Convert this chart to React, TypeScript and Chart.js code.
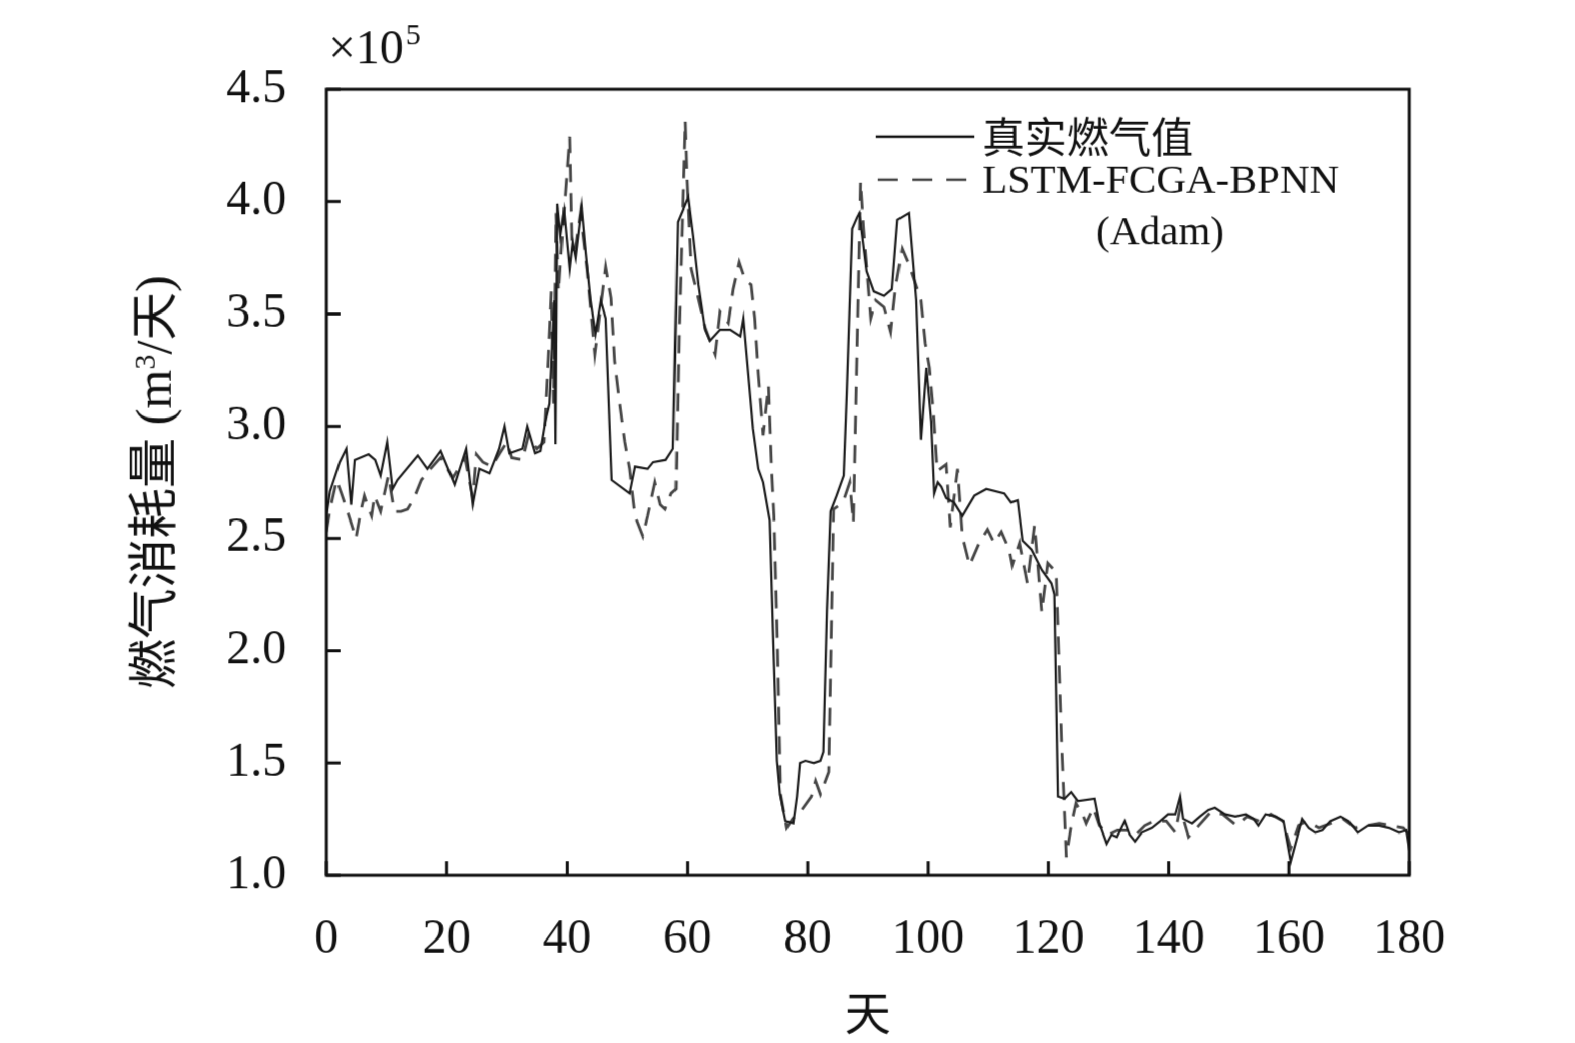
import React, { useEffect, useRef } from 'react';
import { Chart, registerables } from 'chart.js';

Chart.register(...registerables);

// 真实燃气值 (solid) — vertices, value in 1e5 m3/day
const realDays = [
  0, 0.6, 2.2, 3.3, 4.1, 4.7, 7, 8.1, 9, 10.1, 11, 11.8, 15.2, 16.8, 19, 21.3, 23.2, 24.3, 25.4, 27.1,
  28.7, 29.6, 30.4, 32.6, 33.4, 34.7, 35.6, 36.4, 37.1, 37.9, 38.1, 38.4, 38.9, 39.5, 40.4, 40.9, 41.4, 42.4, 43.1, 43.9,
  44.7, 45.6, 46.4, 47.4, 50.4, 51.3, 53.4, 54.3, 56.4, 57.6, 58.4, 60.1, 60.9, 61.8, 62.9, 63.7, 65.4, 67.1, 68.8, 69.3,
  70.9, 71.8, 72.6, 73.7, 74.3, 74.9, 75.4, 76.3, 77.6, 78.2, 78.7, 79.6, 81, 82.1, 82.6, 83.2, 83.8, 84.8, 86, 86.5,
  87.4, 88.2, 88.6, 89.8, 91, 92.7, 94, 94.9, 96.8, 98, 98.8, 99.7, 100.5, 101, 101.6, 102.2, 103, 104.3, 105.7, 107.7,
  109.7, 112.7, 113.8, 114.9, 115.7, 117.2, 118.9, 120.5, 121, 121.6, 122.7, 123.8, 124.9, 127.7, 128.5, 129.7, 130.5, 131.4, 132.7, 133.5,
  134.4, 135.5, 137.2, 138.6, 139.9, 141.1, 141.9, 142.4, 143.9, 145.2, 146.6, 147.7, 149.4, 151.1, 152.8, 154.1, 154.9, 156.1, 157.8, 159.1,
  160.3, 161.6, 162.2, 163.3, 164.4, 165.6, 166.9, 168.6, 169.9, 171.4, 173.1, 175, 176.6, 178.3, 179.5, 180,
];
const realValues = [
  2.6, 2.71, 2.84, 2.9, 2.65, 2.85, 2.875, 2.85, 2.78, 2.93, 2.72, 2.76, 2.87, 2.81, 2.89, 2.74, 2.9, 2.65, 2.81, 2.79,
  2.9, 3.0, 2.88, 2.9, 3.0, 2.88, 2.89, 3.02, 3.1, 3.56, 2.92, 3.99, 3.85, 3.96, 3.7, 3.82, 3.75, 3.98, 3.77, 3.56,
  3.41, 3.56, 3.48, 2.76, 2.7, 2.82, 2.81, 2.84, 2.85, 2.9, 3.91, 4.02, 3.85, 3.63, 3.43, 3.38, 3.43, 3.43, 3.4, 3.48,
  2.99, 2.81, 2.75, 2.58, 2.03, 1.51, 1.36, 1.24, 1.23, 1.35, 1.5, 1.51, 1.5, 1.51, 1.55, 2.18, 2.62, 2.69, 2.78, 3.14,
  3.88, 3.93, 3.95, 3.69, 3.6, 3.58, 3.61, 3.92, 3.95, 3.56, 2.94, 3.26, 3.02, 2.7, 2.75, 2.73, 2.68, 2.66, 2.6, 2.69,
  2.72, 2.7, 2.66, 2.67, 2.49, 2.45, 2.36, 2.3, 2.25, 1.35, 1.34, 1.37, 1.33, 1.34, 1.23, 1.14, 1.18, 1.17, 1.24, 1.18,
  1.15, 1.19, 1.21, 1.24, 1.27, 1.27, 1.35, 1.25, 1.23, 1.26, 1.29, 1.3, 1.27, 1.26, 1.27, 1.25, 1.22, 1.27, 1.26, 1.24,
  1.06, 1.19, 1.25, 1.21, 1.19, 1.2, 1.24, 1.26, 1.24, 1.19, 1.22, 1.22, 1.21, 1.19, 1.2, 1.11,
];

// LSTM-FCGA-BPNN (Adam) prediction (dashed)
const predDays = [
  0, 0.6, 1.7, 2.5, 3.5, 4.9, 5.7, 6.3, 6.8, 7.5, 8, 9, 10.3, 11.3, 12.4, 13.5, 14.6, 15.8, 17, 19,
  21, 23, 24.3, 24.9, 26, 27.5, 28.8, 30, 30.8, 32.6, 33.6, 35, 36.2, 36.9, 37.4, 37.8, 38.2, 38.6, 39.2, 40.4,
  40.8, 41.4, 42.2, 43.3, 44.6, 45.3, 46.4, 47.3, 47.9, 48.7, 49.6, 50.4, 51.3, 52.6, 53.4, 54.6, 55.5, 56.3, 57.3, 58.1,
  58.6, 59.6, 59.9, 60.6, 61.5, 62.9, 64.6, 65.4, 66.8, 67.6, 68.6, 69.6, 70.6, 71.2, 71.8, 72.6, 73.5, 74, 74.4, 75,
  75.5, 76.5, 77.5, 79, 80.6, 81.3, 82.1, 83.5, 84.3, 85.4, 86, 87, 87.6, 88.8, 89.3, 90.5, 91.3, 92.7, 93.8, 94.6,
  95.7, 96.8, 98.8, 99.5, 100.2, 100.9, 101.5, 103, 103.7, 104.9, 105.7, 106.9, 108.5, 109.9, 111, 112.2, 113.5, 114, 115.2, 116.5,
  117.7, 118.9, 119.9, 121.3, 122.2, 123, 123.8, 124.6, 125.7, 126.3, 127.5, 128.5, 130, 131.5, 133, 134.5, 136, 137.5, 139.6, 141.1,
  141.9, 143.3, 145, 147, 149, 151.3, 153, 155, 157, 159, 160.3, 161.6, 163, 165, 167, 169, 171, 173, 175, 177,
  179, 180,
];
const predValues = [
  2.53, 2.63, 2.76, 2.7, 2.62, 2.5, 2.62, 2.69, 2.65, 2.6, 2.69, 2.62, 2.78, 2.62, 2.62, 2.63, 2.68, 2.76, 2.8, 2.86,
  2.77, 2.86, 2.68, 2.875, 2.84, 2.82, 2.88, 2.93, 2.86, 2.85, 2.96, 2.9, 2.93, 3.3, 3.6, 3.1, 3.95, 3.6, 3.85, 4.29,
  3.78, 3.8, 3.95, 3.7, 3.32, 3.47, 3.71, 3.57, 3.29, 3.11, 2.93, 2.81, 2.6, 2.51, 2.6, 2.75, 2.65, 2.63, 2.7, 2.72,
  3.4, 4.36, 4.1, 3.7, 3.6, 3.44, 3.32, 3.51, 3.46, 3.61, 3.73, 3.65, 3.63, 3.48, 3.23, 2.96, 3.18, 2.81, 2.6, 2.0,
  1.36, 1.21, 1.25, 1.29, 1.35, 1.42, 1.36, 1.46, 2.63, 2.65, 2.67, 2.75, 2.57, 4.09, 3.88, 3.48, 3.56, 3.53, 3.42, 3.62,
  3.79, 3.72, 3.56, 3.37, 3.26, 3.05, 2.8, 2.83, 2.55, 2.81, 2.51, 2.38, 2.48, 2.54, 2.48, 2.53, 2.45, 2.38, 2.48, 2.3,
  2.56, 2.17, 2.39, 2.35, 1.6, 1.08, 1.22, 1.32, 1.27, 1.23, 1.3, 1.22, 1.18, 1.2, 1.2, 1.18, 1.22, 1.24, 1.24, 1.19,
  1.3, 1.17, 1.22, 1.28, 1.27, 1.22, 1.26, 1.24, 1.27, 1.24, 1.12, 1.22, 1.24, 1.21, 1.23, 1.25, 1.21, 1.22, 1.23, 1.22,
  1.21, 1.18,
];

const xTicks = [0, 20, 40, 60, 80, 100, 120, 140, 160, 180];
const yTicks = [1.0, 1.5, 2.0, 2.5, 3.0, 3.5, 4.0, 4.5];

const seriesNames = ['真实燃气值', 'LSTM-FCGA-BPNN', '(Adam)'];
const xTitle = '天';

const SERIF = '"Liberation Serif", "Times New Roman", "Noto Sans CJK SC", serif';
const CJK = '"Noto Sans CJK SC", "Liberation Serif", sans-serif';

const WIDTH = 1575;
const HEIGHT = 1043;

// y title pieces: [text, font, baseline shift]
const yTitleParts: [string, string, number][] = [
  ['燃气消耗量', `50px ${CJK}`, 0],
  [' (m', `50px ${SERIF}`, 0],
  ['3', `30px ${SERIF}`, -16],
  ['/', `50px ${SERIF}`, 0],
  ['天', `48px ${CJK}`, 0],
  [')', `50px ${SERIF}`, 0],
];

// frame, inner ticks, titles and legend
const decorPlugin = {
  id: 'decor',
  afterDatasetsDraw(chart: any) {
    const { ctx, chartArea } = chart;
    const { left, right, top, bottom } = chartArea;
    const xs = chart.scales.x;
    const ys = chart.scales.y;
    ctx.save();
    ctx.strokeStyle = '#111';
    ctx.lineWidth = 3;
    ctx.setLineDash([]);
    ctx.strokeRect(left, top, right - left, bottom - top);

    ctx.beginPath();
    xTicks.forEach((t) => {
      const px = xs.getPixelForValue(t);
      ctx.moveTo(px, bottom);
      ctx.lineTo(px, bottom - 14);
    });
    yTicks.forEach((t) => {
      const py = ys.getPixelForValue(t);
      ctx.moveTo(left, py);
      ctx.lineTo(left + 14, py);
    });
    ctx.stroke();

    ctx.fillStyle = '#111';
    // ×10^5
    ctx.textBaseline = 'alphabetic';
    ctx.textAlign = 'left';
    ctx.font = `48px ${SERIF}`;
    ctx.fillText('×10', left + 2, 63);
    const w = ctx.measureText('×10').width;
    ctx.font = `30px ${SERIF}`;
    ctx.fillText('5', left + 4 + w, 44);

    // x title
    ctx.font = `46px ${CJK}`;
    ctx.textAlign = 'center';
    ctx.textBaseline = 'middle';
    ctx.fillText(xTitle, (left + right) / 2, 1008);

    // y title, drawn piece by piece
    ctx.save();
    ctx.textAlign = 'left';
    ctx.textBaseline = 'alphabetic';
    let total = 0;
    const widths = yTitleParts.map(([t, f]) => {
      ctx.font = f;
      const m = ctx.measureText(t).width;
      total += m;
      return m;
    });
    ctx.translate(170, 480);
    ctx.rotate(-Math.PI / 2);
    let cx = -total / 2;
    yTitleParts.forEach(([t, f, dy], i) => {
      ctx.font = f;
      ctx.fillText(t, cx, dy);
      cx += widths[i];
    });
    ctx.restore();

    // legend
    ctx.lineWidth = 2.5;
    ctx.strokeStyle = '#111';
    ctx.beginPath();
    ctx.moveTo(872, 136);
    ctx.lineTo(970, 136);
    ctx.stroke();
    ctx.strokeStyle = '#444';
    ctx.setLineDash([20, 14]);
    ctx.beginPath();
    ctx.moveTo(874, 179);
    ctx.lineTo(976, 179);
    ctx.stroke();
    ctx.setLineDash([]);

    ctx.textAlign = 'left';
    ctx.font = `42px ${CJK}`;
    ctx.fillText(seriesNames[0], 978, 136);
    ctx.font = `41px ${SERIF}`;
    ctx.fillText(seriesNames[1], 978, 181);
    ctx.textAlign = 'center';
    ctx.fillText(seriesNames[2], 1155, 232);
    ctx.restore();
  },
};

export default function App() {
  const canvasRef = useRef<HTMLCanvasElement>(null);
  const chartRef = useRef<Chart | null>(null);

  useEffect(() => {
    if (!canvasRef.current) return;
    const ctx = canvasRef.current.getContext('2d');
    if (!ctx) return;
    if (chartRef.current) chartRef.current.destroy();

    chartRef.current = new Chart(ctx, {
      type: 'line',
      data: {
        datasets: [
          {
            label: seriesNames[0],
            data: realDays.map((d, i) => ({ x: d, y: realValues[i] })),
            borderColor: '#1a1a1a',
            borderWidth: 2.2,
            pointRadius: 0,
            tension: 0,
          },
          {
            label: seriesNames[1] + seriesNames[2],
            data: predDays.map((d, i) => ({ x: d, y: predValues[i] })),
            borderColor: '#454545',
            borderWidth: 2.8,
            borderDash: [18, 11],
            pointRadius: 0,
            tension: 0,
          },
        ],
      },
      options: {
        animation: false,
        responsive: false,
        maintainAspectRatio: false,
        devicePixelRatio: 1,
        layout: { padding: { top: 89, right: 172, left: 0, bottom: 0 } },
        plugins: {
          legend: { display: false },
          tooltip: { enabled: false },
        },
        scales: {
          x: {
            type: 'linear',
            min: 0,
            max: 180,
            grid: { display: false, drawTicks: false },
            border: { display: false },
            afterFit: (scale: any) => {
              scale.height = 172;
            },
            afterBuildTicks: (scale: any) => {
              scale.ticks = xTicks.map((v) => ({ value: v }));
            },
            ticks: {
              color: '#111',
              padding: 36,
              font: { family: SERIF, size: 48 },
              maxRotation: 0,
            },
          },
          y: {
            min: 1.0,
            max: 4.5,
            grid: { display: false, drawTicks: false },
            border: { display: false },
            afterFit: (scale: any) => {
              scale.width = 325;
            },
            afterBuildTicks: (scale: any) => {
              scale.ticks = yTicks.map((v) => ({ value: v }));
            },
            ticks: {
              color: '#111',
              padding: 40,
              font: { family: SERIF, size: 48 },
              callback: (v: any) => Number(v).toFixed(1),
            },
          },
        },
      },
      plugins: [decorPlugin],
    });

    return () => {
      if (chartRef.current) {
        chartRef.current.destroy();
        chartRef.current = null;
      }
    };
  }, []);

  // the photo comes out a touch smaller than the page, so scale up slightly
  return (
    <div
      style={{
        position: 'fixed',
        left: 0,
        top: 0,
        width: WIDTH,
        height: HEIGHT,
        background: '#fff',
        transformOrigin: '0 0',
        transform: `scale(${1575 / 1568}, ${1043 / 1038})`,
      }}
    >
      <canvas ref={canvasRef} width={WIDTH} height={HEIGHT} style={{ width: WIDTH, height: HEIGHT, display: 'block' }}></canvas>
    </div>
  );
}
